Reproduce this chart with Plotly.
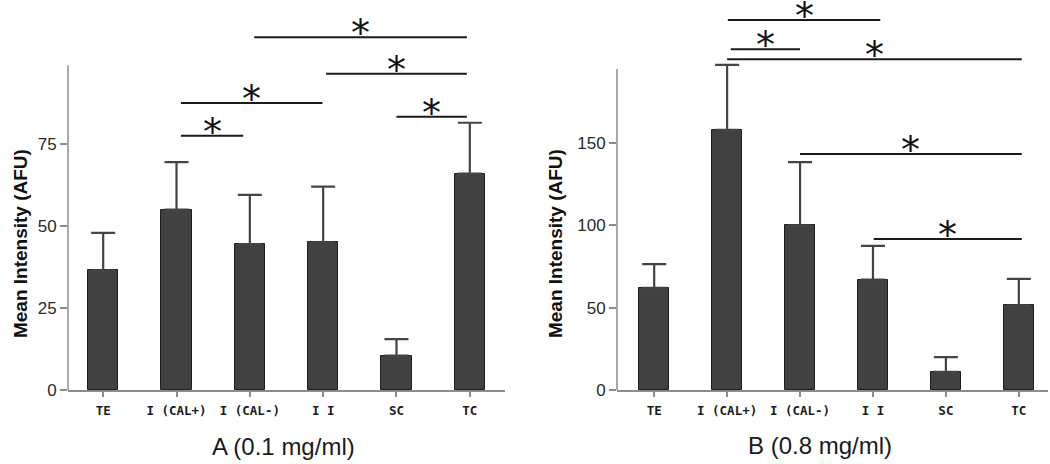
import plotly.graph_objects as go

categories = ["TE", "I (CAL+)", "I (CAL-)", "I I", "SC", "TC"]

# Panel A (0.1 mg/ml)
a_means = [36.5, 55.0, 44.5, 45.0, 10.5, 66.0]
a_upper = [47.9, 69.5, 59.5, 62.0, 15.5, 81.5]
a_sig_start = [2.06, 3.04, 1.06, 1.06, 4.0]
a_sig_end = [4.96, 4.96, 2.99, 1.91, 4.96]
a_sig_height = [107.6, 96.4, 87.5, 77.5, 83.3]

# Panel B (0.8 mg/ml)
b_means = [62.0, 158.0, 100.0, 67.0, 11.0, 51.5]
b_upper = [76.5, 197.5, 138.5, 87.5, 20.0, 67.5]
b_sig_start = [1.01, 1.05, 1.0, 2.0, 3.01]
b_sig_end = [3.1, 2.0, 5.04, 5.04, 5.04]
b_sig_height = [224.8, 207.0, 201.0, 143.4, 91.7]

a_ticks = [0, 25, 50, 75]
b_ticks = [0, 50, 100, 150]
a_axis_top = 99
b_axis_top = 195

W, H = 1050, 464
x_idx = list(range(len(categories)))

BAR = "#414141"
EDGE = "#1e1e1e"
AX = "#8c8c8c"

fig = go.Figure()
for means, upper, xa, ya in [(a_means, a_upper, "x", "y"), (b_means, b_upper, "x2", "y2")]:
    fig.add_trace(go.Bar(
        x=x_idx, y=means, xaxis=xa, yaxis=ya, width=0.41,
        marker=dict(color=BAR, line=dict(color=EDGE, width=1)),
        error_y=dict(type="data", symmetric=False,
                     array=[u - m for u, m in zip(upper, means)],
                     arrayminus=[0] * len(means),
                     color="#444444", thickness=2.2, width=12),
        showlegend=False, hoverinfo="skip"))

tickfont_y = dict(family="Liberation Sans, Arial", size=17, color="#2a2a2a")
tickfont_x = dict(family="DejaVu Sans Mono", size=12.5, color="#1a1a1a", weight="bold")

common_x = dict(tickmode="array", tickvals=x_idx, ticktext=categories, showline=True,
                linecolor=AX, linewidth=1.5, ticks="outside", ticklen=5, tickcolor=AX,
                tickwidth=1.5, tickfont=tickfont_x, showgrid=False, zeroline=False,
                ticklabelstandoff=3, fixedrange=True)
common_y = dict(tickmode="array", showline=False, ticks="outside", ticklen=7, tickcolor=AX,
                tickwidth=1.5, tickfont=tickfont_y, showgrid=False, zeroline=False,
                domain=[0, 1], fixedrange=True)

a_dom = [68 / W, 505 / W]
b_dom = [617 / W, 1048 / W]

fig.update_layout(
    width=W, height=H,
    margin=dict(l=0, r=0, t=5, b=74),
    paper_bgcolor="white", plot_bgcolor="white",
    bargap=0,
    xaxis=dict(common_x, domain=a_dom, range=[-0.48, 5.48], anchor="y"),
    yaxis=dict(common_y, tickvals=a_ticks, range=[0, 117.4], anchor="x"),
    xaxis2=dict(common_x, domain=b_dom, range=[-0.51, 5.4], anchor="y2"),
    yaxis2=dict(common_y, tickvals=b_ticks, range=[0, 233.9], anchor="x2"),
)

shapes = []
annotations = []
# y axis lines (stop below the top of the plot area)
shapes.append(dict(type="line", xref="paper", yref="y", x0=a_dom[0], x1=a_dom[0],
                   y0=0, y1=a_axis_top, line=dict(color=AX, width=1.5)))
shapes.append(dict(type="line", xref="paper", yref="y2", x0=b_dom[0], x1=b_dom[0],
                   y0=0, y1=b_axis_top, line=dict(color=AX, width=1.5)))

for starts, ends, hts, xr, yr in [(a_sig_start, a_sig_end, a_sig_height, "x", "y"),
                                  (b_sig_start, b_sig_end, b_sig_height, "x2", "y2")]:
    for s, e, h in zip(starts, ends, hts):
        shapes.append(dict(type="line", xref=xr, yref=yr, x0=s, x1=e, y0=h, y1=h,
                           line=dict(color="#1a1a1a", width=2)))
        annotations.append(dict(xref=xr, yref=yr, x=(s + e) / 2, y=h, text="*",
                                showarrow=False, yanchor="middle", xanchor="center",
                                yshift=4,
                                font=dict(family="DejaVu Sans", size=38, color="#111111")))

ytitle_font = dict(family="Liberation Sans, Arial", size=19, color="#111111", weight="bold")
annotations.append(dict(xref="paper", yref="paper", x=20 / W, y=0.379, text="Mean Intensity (AFU)",
                        textangle=-90, showarrow=False, font=ytitle_font,
                        xanchor="center", yanchor="middle"))
annotations.append(dict(xref="paper", yref="paper", x=555 / W, y=0.379, text="Mean Intensity (AFU)",
                        textangle=-90, showarrow=False, font=ytitle_font,
                        xanchor="center", yanchor="middle"))
xtitle_font = dict(family="Liberation Sans, Arial", size=24, color="#1a1a1a")
annotations.append(dict(xref="paper", yref="paper", x=283 / W, y=-0.148, text="A (0.1 mg/ml)",
                        showarrow=False, font=xtitle_font, xanchor="center", yanchor="middle"))
annotations.append(dict(xref="paper", yref="paper", x=820 / W, y=-0.143, text="B (0.8 mg/ml)",
                        showarrow=False, font=xtitle_font, xanchor="center", yanchor="middle"))

fig.update_layout(shapes=shapes, annotations=annotations)
fig.write_html("out.html", config={"displayModeBar": False},
               post_script="document.body.style.margin='0px';")
